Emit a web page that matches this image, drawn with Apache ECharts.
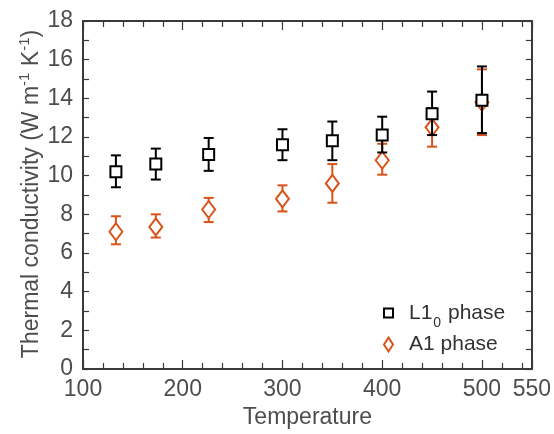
<!DOCTYPE html>
<html>
<head>
<meta charset="utf-8">
<script src="https://cdn.jsdelivr.net/npm/echarts@6/dist/echarts.min.js"></script>
<style>html,body{margin:0;padding:0;background:#fff;}#c{width:554px;height:434px;}</style>
</head>
<body>
<div id="c"></div>
<script>
const temps = [133, 173, 226, 300, 350, 400, 450, 500];
const l10Vals = [10.2, 10.6, 11.1, 11.6, 11.8, 12.1, 13.2, 13.9];
const l10Low = [9.4, 9.8, 10.25, 10.8, 10.8, 11.2, 12.1, 12.2];
const l10High = [11.05, 11.4, 11.95, 12.4, 12.8, 13.05, 14.35, 15.65];
const a1Vals = [7.1, 7.35, 8.25, 8.8, 9.6, 10.8, 12.5, 13.8];
const a1Low = [6.45, 6.8, 7.6, 8.15, 8.6, 10.05, 11.5, 12.1];
const a1High = [7.9, 8.0, 8.85, 9.5, 10.6, 11.65, 13.5, 15.5];
const xLabels = [100, 200, 300, 400, 500, 550];

const FONT = 'Liberation Sans';
const AX = '#3a3a3a';
const TXT = '#4d4d4d';
const ORANGE = '#D95319';

function errData(lo, hi) { return temps.map((t, i) => [t, lo[i], hi[i]]); }
function errRender(color) {
  return function (params, api) {
    const x = api.value(0);
    const p1 = api.coord([x, api.value(1)]);
    const p2 = api.coord([x, api.value(2)]);
    const w = 5;
    const st = { stroke: color, lineWidth: 2 };
    return { type: 'group', children: [
      { type: 'line', shape: { x1: p1[0], y1: p1[1], x2: p2[0], y2: p2[1] }, style: st },
      { type: 'line', shape: { x1: p1[0] - w, y1: p1[1], x2: p1[0] + w, y2: p1[1] }, style: st },
      { type: 'line', shape: { x1: p2[0] - w, y1: p2[1], x2: p2[0] + w, y2: p2[1] }, style: st }
    ]};
  };
}

const chart = echarts.init(document.getElementById('c'));
const xBase = {
  type: 'value', min: 100, max: 550, interval: 100,
  axisLine: { show: true, onZero: false, lineStyle: { color: AX, width: 2 } },
  axisTick: { show: true, inside: true, length: 9, lineStyle: { color: AX, width: 1.2 } },
  minorTick: { show: true, splitNumber: 5, length: 6, lineStyle: { color: AX, width: 1.2 } },
  splitLine: { show: false }
};
const yBase = {
  type: 'value', min: 0, max: 18, interval: 2,
  axisLine: { show: true, onZero: false, lineStyle: { color: AX, width: 2 } },
  axisTick: { show: true, inside: true, length: 6, lineStyle: { color: AX, width: 1.2 } },
  minorTick: { show: true, splitNumber: 2, length: 6, lineStyle: { color: AX, width: 1.2 } },
  splitLine: { show: false }
};

chart.setOption({
  animation: false,
  backgroundColor: '#fff',
  textStyle: { fontFamily: FONT },
  grid: { left: 83, right: 19, top: 21, bottom: 62, containLabel: false },
  xAxis: [
    Object.assign({}, xBase, {
      position: 'bottom',
      name: 'Temperature', nameLocation: 'middle', nameGap: 37,
      nameTextStyle: { fontFamily: FONT, fontSize: 23, color: TXT },
      axisLabel: { show: true, fontFamily: FONT, fontSize: 23, color: TXT, margin: 9, showMaxLabel: true, showMinLabel: true,
        formatter: v => xLabels.indexOf(v) >= 0 ? String(v) : '' }
    }),
    Object.assign({}, xBase, { position: 'top', axisLabel: { show: false } })
  ],
  yAxis: [
    Object.assign({}, yBase, {
      position: 'left',
      axisLabel: { show: true, fontFamily: FONT, fontSize: 23, color: TXT, margin: 10 }
    }),
    Object.assign({}, yBase, { position: 'right', axisLabel: { show: false } })
  ],
  legend: {
    orient: 'vertical', left: 378, top: 291, itemWidth: 9, itemHeight: 14, itemGap: 4,
    data: [
      { name: 'L10', icon: 'path://M0,0M0,14M0,2.5L9,2.5L9,11.5L0,11.5Z' },
      { name: 'A1' }
    ],
    formatter: n => n === 'L10' ? '{b|L1}{s|0}{a| phase}' : '{b|A1 phase}',
    textStyle: { fontFamily: FONT, color: '#333',
      rich: {
        b: { fontFamily: FONT, fontSize: 21, color: '#333', lineHeight: 24, padding: [0, 0, 0, 11] },
        a: { fontFamily: FONT, fontSize: 21, color: '#333', lineHeight: 24 },
        s: { fontFamily: FONT, fontSize: 14, color: '#333', lineHeight: 24, padding: [20, 1, 0, 1] }
      } }
  },
  graphic: [{
    type: 'text', x: 32, y: 194, rotation: Math.PI / 2,
    style: {
      text: '{a|Thermal conductivity (W m}{s|-1}{a| K}{s|-1}{a|)}',
      align: 'center', verticalAlign: 'middle',
      rich: {
        a: { fontFamily: FONT, fontSize: 23, fill: TXT, lineHeight: 26 },
        s: { fontFamily: FONT, fontSize: 15, fill: TXT, lineHeight: 26, padding: [0, 0, 14, 0] }
      }
    }
  }],
  series: [
    { type: 'custom', name: 'A1err', renderItem: errRender(ORANGE), data: errData(a1Low, a1High), encode: { x: 0, y: [1, 2] }, z: 2, silent: true },
    { type: 'scatter', name: 'A1', data: temps.map((t, i) => [t, a1Vals[i]]), symbol: 'diamond', symbolSize: [13, 17],
      itemStyle: { color: '#fff', borderColor: ORANGE, borderWidth: 2, opacity: 1 }, z: 3 },
    { type: 'custom', name: 'L10err', renderItem: errRender('#000'), data: errData(l10Low, l10High), encode: { x: 0, y: [1, 2] }, z: 4, silent: true },
    { type: 'scatter', name: 'L10', data: temps.map((t, i) => [t, l10Vals[i]]), symbol: 'rect', symbolSize: 11,
      itemStyle: { color: '#fff', borderColor: '#000', borderWidth: 2, opacity: 1 }, z: 5 }
  ]
});
</script>
</body>
</html>
